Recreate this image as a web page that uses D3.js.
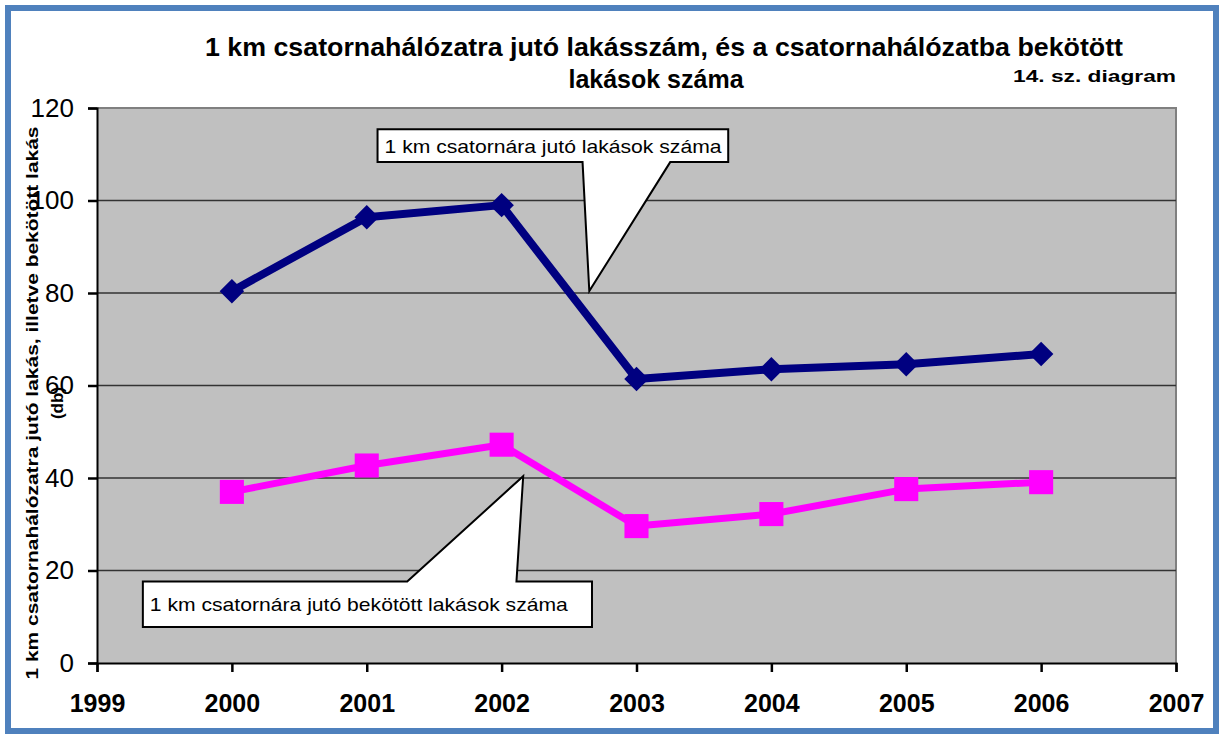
<!DOCTYPE html>
<html>
<head>
<meta charset="utf-8">
<style>
body { margin: 0; background: #fff; }
svg { display: block; font-family: Arial, "Liberation Sans", sans-serif; }
.grid line { stroke: #333; stroke-width: 1.5; }
</style>
<script src="https://cdn.jsdelivr.net/npm/d3@7"></script>
</head>
<body>
<svg id="chart" width="1223" height="738"></svg>
<script>
// data
var years = [2000, 2001, 2002, 2003, 2004, 2005, 2006];
var lakasok = [80.4, 96.4, 99.0, 61.4, 63.5, 64.6, 66.8];      // 1 km csatornára jutó lakások
var bekotott = [37.0, 42.7, 47.2, 29.6, 32.2, 37.6, 39.1];     // 1 km csatornára jutó bekötött lakások
var xTicks = [1999, 2000, 2001, 2002, 2003, 2004, 2005, 2006, 2007];
var yTicks = [0, 20, 40, 60, 80, 100, 120];

var titleLines = ["1 km csatornahálózatra jutó lakásszám, és a csatornahálózatba bekötött", "lakások száma"];
var diagramNo = "14. sz. diagram";
var yTitle = ["1 km csatornahálózatra jutó lakás, illetve bekötött lakás", "(db)"];
var label1 = "1 km csatornára jutó lakások száma";
var label2 = "1 km csatornára jutó bekötött lakások száma";

var svg = d3.select("#chart");

var x = d3.scaleLinear().domain([1999, 2007]).range([97, 1176]);
var y = d3.scaleLinear().domain([0, 120]).range([663, 108]);

// outer frame
svg.append("rect")
  .attr("x", 8).attr("y", 8).attr("width", 1208).attr("height", 723)
  .attr("fill", "#fff").attr("stroke", "#4F81BD").attr("stroke-width", 6);

// plot area
svg.append("rect")
  .attr("x", x(1999)).attr("y", y(120))
  .attr("width", x(2007) - x(1999)).attr("height", y(0) - y(120))
  .attr("fill", "#C0C0C0");
svg.append("path")
  .attr("d", "M" + x(1999) + "," + y(120) + "H" + x(2007) + "V" + y(0))
  .attr("fill", "none").attr("stroke", "#808080").attr("stroke-width", 2);

// gridlines
svg.append("g").attr("class", "grid")
  .selectAll("line")
  .data(yTicks.filter(function(d) { return d > 0 && d < 120; }))
  .enter().append("line")
  .attr("x1", x(1999)).attr("x2", x(2007))
  .attr("y1", function(d) { return y(d); })
  .attr("y2", function(d) { return y(d); });

// axes
var axisY = d3.axisLeft(y).tickValues(yTicks).tickSize(9).tickPadding(14);
var gy = svg.append("g").attr("transform", "translate(" + x(1999) + ",0)").call(axisY);
gy.selectAll("text").attr("font-size", 26).attr("font-family", "Arial, 'Liberation Sans', sans-serif").attr("fill", "#000");

var axisX = d3.axisBottom(x).tickValues(xTicks).tickFormat(d3.format("d")).tickSize(9).tickPadding(22);
var gx = svg.append("g").attr("transform", "translate(0," + y(0) + ")").call(axisX);
gx.selectAll("text").attr("font-size", 25).attr("font-weight", "bold")
  .attr("font-family", "Arial, 'Liberation Sans', sans-serif").attr("fill", "#000");

[gx, gy].forEach(function(g) {
  g.selectAll("path.domain").attr("stroke", "#000").attr("stroke-width", 2);
  g.selectAll(".tick line").attr("stroke", "#000").attr("stroke-width", 2.5);
});

// series
var line = d3.line().x(function(d) { return x(d[0]); }).y(function(d) { return y(d[1]); });
var s1 = years.map(function(yr, i) { return [yr, lakasok[i]]; });
var s2 = years.map(function(yr, i) { return [yr, bekotott[i]]; });

svg.append("path").attr("d", line(s1))
  .attr("fill", "none").attr("stroke", "#000080").attr("stroke-width", 8).attr("stroke-linejoin", "round");
svg.append("g").selectAll("path").data(s1).enter().append("path")
  .attr("d", d3.symbol().type(d3.symbolSquare).size(300))
  .attr("transform", function(d) { return "translate(" + x(d[0]) + "," + y(d[1]) + ") rotate(45)"; })
  .attr("fill", "#000080");

svg.append("path").attr("d", line(s2))
  .attr("fill", "none").attr("stroke", "#FF00FF").attr("stroke-width", 7).attr("stroke-linejoin", "round");
svg.append("g").selectAll("path").data(s2).enter().append("path")
  .attr("d", d3.symbol().type(d3.symbolSquare).size(580))
  .attr("transform", function(d) { return "translate(" + x(d[0]) + "," + y(d[1]) + ")"; })
  .attr("fill", "#FF00FF");

// callouts (box + wedge), in data units
function callout(box, wedge, tip, text, textLen, top) {
  var x0 = x(box[0]), x1 = x(box[1]), yt = y(box[2]), yb = y(box[3]);
  var d;
  if (top) {
    d = "M" + x0 + "," + yt + "H" + x(wedge[0]) + "L" + x(tip[0]) + "," + y(tip[1]) +
        "L" + x(wedge[1]) + "," + yt + "H" + x1 + "V" + yb + "H" + x0 + "Z";
  } else {
    d = "M" + x0 + "," + yt + "H" + x1 + "V" + yb + "H" + x(wedge[1]) +
        "L" + x(tip[0]) + "," + y(tip[1]) + "L" + x(wedge[0]) + "," + yb + "H" + x0 + "Z";
  }
  svg.append("path").attr("d", d).attr("fill", "#fff").attr("stroke", "#000")
    .attr("stroke-width", 2).attr("stroke-linejoin", "miter");
  svg.append("text")
    .attr("x", x0 + 7).attr("y", (yt + yb) / 2 + 7)
    .attr("font-size", 19).attr("textLength", textLen).attr("lengthAdjust", "spacingAndGlyphs")
    .text(text);
}
callout([2001.08, 2003.68, 115.4, 108.3], [2002.60, 2003.25], [2002.65, 80.4], label1, 337, false);
callout([1999.34, 2002.67, 17.6, 7.8], [2001.30, 2002.11], [2002.16, 40.4], label2, 418, true);

// titles
svg.append("text").attr("x", 664).attr("y", 56).attr("text-anchor", "middle")
  .attr("font-size", 25).attr("font-weight", "bold")
  .attr("textLength", 918).attr("lengthAdjust", "spacingAndGlyphs")
  .text(titleLines[0]);
svg.append("text").attr("x", 656).attr("y", 88).attr("text-anchor", "middle")
  .attr("font-size", 25).attr("font-weight", "bold")
  .text(titleLines[1]);
svg.append("text").attr("x", 1176).attr("y", 82).attr("text-anchor", "end")
  .attr("font-size", 17).attr("font-weight", "bold")
  .attr("textLength", 163).attr("lengthAdjust", "spacingAndGlyphs")
  .text(diagramNo);

svg.append("text").attr("transform", "translate(38,403) rotate(-90)").attr("text-anchor", "middle")
  .attr("font-size", 17).attr("font-weight", "bold")
  .attr("textLength", 553).attr("lengthAdjust", "spacingAndGlyphs")
  .text(yTitle[0]);
svg.append("text").attr("transform", "translate(63,403) rotate(-90)").attr("text-anchor", "middle")
  .attr("font-size", 17).attr("font-weight", "bold")
  .text(yTitle[1]);
</script>
</body>
</html>
